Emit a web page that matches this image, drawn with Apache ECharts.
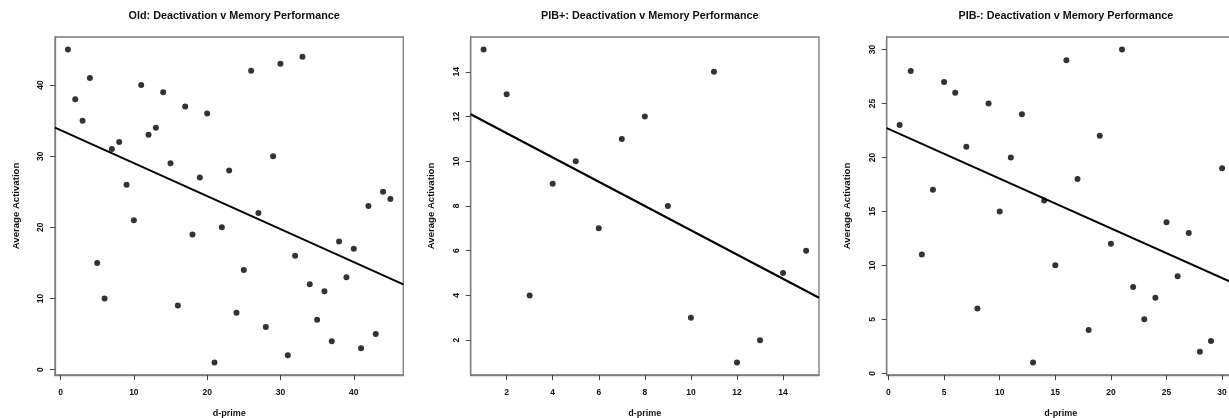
<!DOCTYPE html>
<html>
<head>
<meta charset="utf-8">
<script src="https://cdn.jsdelivr.net/npm/echarts@6/dist/echarts.min.js"></script>
<style>
html,body{margin:0;padding:0;background:#fff;}
#c{width:1229px;height:418px;}
</style>
</head>
<body>
<div id="c"></div>
<script>
// ---- data ----
const titles = [
  "Old: Deactivation v Memory Performance",
  "PIB+: Deactivation v Memory Performance",
  "PIB-: Deactivation v Memory Performance"
];
const xName = "d-prime";
const yName = "Average Activation";

const oldDprime = [1,2,3,4,5,6,7,8,9,10,11,12,13,14,15,16,17,18,19,20,21,22,23,24,25,26,27,28,29,30,31,32,33,34,35,36,37,38,39,40,41,42,43,44,45];
const oldActivation = [45,38,35,41,15,10,31,32,26,21,40,33,34,39,29,9,37,19,27,36,1,20,28,8,14,42,22,6,30,43,2,16,44,12,7,11,4,18,13,17,3,23,5,25,24];

const pibPlusDprime = [1,2,3,4,5,6,7,8,9,10,11,12,13,14,15];
const pibPlusActivation = [15,13,4,9,10,7,11,12,8,3,14,1,2,5,6];

const pibMinusDprime = [1,2,3,4,5,6,7,8,9,10,11,12,13,14,15,16,17,18,19,20,21,22,23,24,25,26,27,28,29,30];
const pibMinusActivation = [23,28,11,17,27,26,21,6,25,15,20,24,1,16,10,29,18,4,22,12,30,8,5,7,14,9,13,2,3,19];

const oldXTicks = [0,10,20,30,40];
const oldYTicks = [0,10,20,30,40];
const pibPlusXTicks = [2,4,6,8,10,12,14];
const pibPlusYTicks = [2,4,6,8,10,12,14];
const pibMinusXTicks = [0,5,10,15,20,25,30];
const pibMinusYTicks = [0,5,10,15,20,25,30];

// ---- helpers ----
const panels = [
  {x: oldDprime, y: oldActivation, xt: oldXTicks, yt: oldYTicks},
  {x: pibPlusDprime, y: pibPlusActivation, xt: pibPlusXTicks, yt: pibPlusYTicks},
  {x: pibMinusDprime, y: pibMinusActivation, xt: pibMinusXTicks, yt: pibMinusYTicks}
];
function extRange(a){ const mn=Math.min(...a), mx=Math.max(...a), d=(mx-mn)*0.04; return [mn-d, mx+d]; }
function ols(x,y){
  const n=x.length; const mx=x.reduce((s,v)=>s+v,0)/n; const my=y.reduce((s,v)=>s+v,0)/n;
  let sxy=0,sxx=0; for(let i=0;i<n;i++){sxy+=(x[i]-mx)*(y[i]-my); sxx+=(x[i]-mx)*(x[i]-mx);}
  const b=sxy/sxx; return {a: my-b*mx, b};
}

const FONT = '"Liberation Sans", Arial, Helvetica, sans-serif';
const gridLefts = [55, 470.7, 886.7];
const gridW = 348.3;

const option = {
  backgroundColor: '#fff',
  animation: false,
  title: [], grid: [], xAxis: [], yAxis: [], series: []
};

panels.forEach((p, i) => {
  const xr = extRange(p.x), yr = extRange(p.y);
  const left = gridLefts[i];
  option.title.push({
    text: titles[i], left: left + gridW/2, top: 6, textAlign: 'center',
    textStyle: {fontFamily: FONT, fontWeight: 'bold', fontSize: 10.8, color: '#111'}
  });
  option.grid.push({
    left: left, top: 37, width: gridW, height: 338,
    containLabel: false, outerBoundsMode: 'none',
    show: true, borderColor: '#7a7a7a', borderWidth: 1.3, backgroundColor: 'transparent'
  });
  option.xAxis.push({
    type: 'value', gridIndex: i, min: xr[0], max: xr[1],
    name: xName, nameLocation: 'middle', nameGap: 34,
    nameTextStyle: {fontFamily: FONT, fontWeight: 'bold', fontSize: 9, color: '#111'},
    axisLine: {show: true, onZero: false, lineStyle: {color: '#7a7a7a', width: 1.3}},
    axisTick: {show: true, inside: false, length: 5, customValues: p.xt, lineStyle: {color: '#444', width: 1}},
    axisLabel: {customValues: p.xt, margin: 13, fontFamily: FONT, fontWeight: 'bold', fontSize: 8.5, color: '#111'},
    splitLine: {show: false}
  });
  option.yAxis.push({
    type: 'value', gridIndex: i, min: yr[0], max: yr[1],
    name: yName, nameLocation: 'middle', nameGap: 34,
    nameTextStyle: {fontFamily: FONT, fontWeight: 'bold', fontSize: 9.6, color: '#111'},
    axisLine: {show: true, onZero: false, lineStyle: {color: '#7a7a7a', width: 1.3}},
    axisTick: {show: true, inside: false, length: 5, customValues: p.yt, lineStyle: {color: '#444', width: 1}},
    axisLabel: {customValues: p.yt, rotate: 90, margin: 10, fontFamily: FONT, fontWeight: 'bold', fontSize: 8.5, color: '#111'},
    splitLine: {show: false}
  });
  option.series.push({
    type: 'scatter', xAxisIndex: i, yAxisIndex: i,
    data: p.x.map((v, k) => [v, p.y[k]]),
    symbol: 'circle', symbolSize: 6, itemStyle: {color: '#000'}
  });
  const f = ols(p.x, p.y);
  option.series.push({
    type: 'line', xAxisIndex: i, yAxisIndex: i, clip: true,
    data: [[xr[0], f.a + f.b*xr[0]], [xr[1], f.a + f.b*xr[1]]],
    symbol: 'none', lineStyle: {color: '#000', width: 2}
  });
});

const chart = echarts.init(document.getElementById('c'), null, {renderer: 'canvas'});
chart.setOption(option);
</script>
</body>
</html>
